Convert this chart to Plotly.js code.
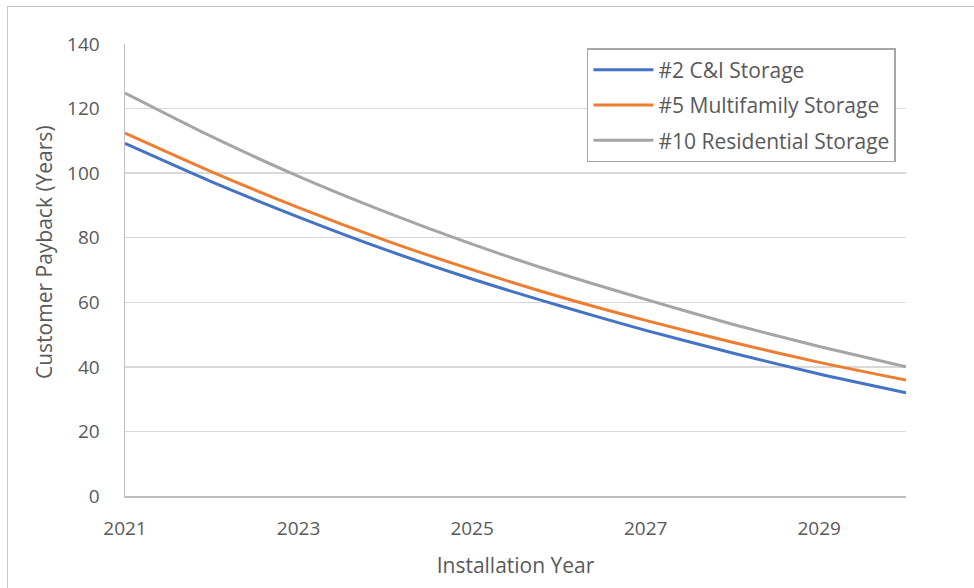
<!DOCTYPE html>
<html>
<head>
<meta charset="utf-8">
<script src="https://cdn.plot.ly/plotly-3.0.1.min.js"></script>
<style>
  html, body { margin: 0; padding: 0; background: #fff; }
  #frame { position: absolute; left: 7px; top: 6px; width: 980px; height: 600px; border: 1.5px solid #c8c8c8; box-sizing: border-box; }
  #chart { position: absolute; left: 0; top: 0; width: 974px; height: 588px; }
</style>
</head>
<body>
<div id="frame"></div>
<div id="chart"></div>
<script>
const years = [2021, 2022, 2023, 2024, 2025, 2026, 2027, 2028, 2029, 2030];
const seriesNames = ["#2 C&I Storage", "#5 Multifamily Storage", "#10 Residential Storage"];
const ciStorage = [109.2, 97.3, 86.4, 76.3, 67.2, 59.0, 51.3, 44.3, 37.8, 32.0];
const multifamilyStorage = [112.4, 100.4, 89.3, 79.2, 70.1, 61.8, 54.4, 47.6, 41.4, 35.9];
const residentialStorage = [124.8, 111.3, 99.0, 88.0, 78.0, 69.0, 60.9, 53.2, 46.3, 40.0];
const xTicks = [2021, 2023, 2025, 2027, 2029];
const yTicks = [0, 20, 40, 60, 80, 100, 120, 140];
const xTitle = "Installation Year";
const yTitle = "Customer Payback (Years)";

const colors = ["#4472C4", "#ED7D31", "#A5A5A5"];
const values = [ciStorage, multifamilyStorage, residentialStorage];
const font = '"Open Sans", "Noto Sans", sans-serif';

const traces = values.map((v, i) => ({
  type: "scatter",
  mode: "lines",
  x: years,
  y: v,
  name: seriesNames[i],
  legendgroup: "g" + i,
  line: { color: colors[i], width: 3, shape: "spline", smoothing: 0.6 },
  hoverinfo: "x+y+name"
}));

const layout = {
  width: 974,
  height: 588,
  margin: { l: 125, r: 68, t: 44, b: 92 },
  paper_bgcolor: "rgba(0,0,0,0)",
  plot_bgcolor: "#ffffff",
  font: { family: font, color: "#595959", size: 19 },
  showlegend: true,
  legend: {
    x: 0.5915, y: 0.991, xanchor: "left", yanchor: "top",
    bgcolor: "#ffffff",
    bordercolor: "#a6a6a6",
    borderwidth: 1.5,
    font: { family: font, size: 21, color: "#595959" },
    itemwidth: 60,
    tracegroupgap: 5,
    traceorder: "grouped"
  },
  xaxis: {
    range: [2021, 2030],
    tickvals: xTicks,
    ticktext: xTicks.map(String),
    showgrid: false,
    zeroline: false,
    showline: true,
    linecolor: "#bfbfbf",
    linewidth: 1.5,
    ticks: "",
    ticklabelstandoff: 15,
    tickfont: { size: 19, color: "#595959" },
    title: { text: xTitle, font: { size: 21, color: "#595959" }, standoff: 18 }
  },
  yaxis: {
    range: [0, 140],
    tickvals: yTicks,
    showgrid: true,
    gridcolor: "#d9d9d9",
    gridwidth: 1.5,
    zeroline: false,
    showline: true,
    linecolor: "#bfbfbf",
    linewidth: 1.5,
    ticks: "",
    ticklabelstandoff: 20,
    tickfont: { size: 19, color: "#595959" }
  },
  annotations: [{
    text: yTitle,
    xref: "paper", yref: "paper",
    x: (44 - 125) / 781, y: (496 - 252) / 452,
    xanchor: "center", yanchor: "middle",
    textangle: -90,
    showarrow: false,
    font: { family: font, size: 21, color: "#595959" }
  }]
};

Plotly.newPlot("chart", traces, layout, { displayModeBar: false, staticPlot: true });
</script>
</body>
</html>
